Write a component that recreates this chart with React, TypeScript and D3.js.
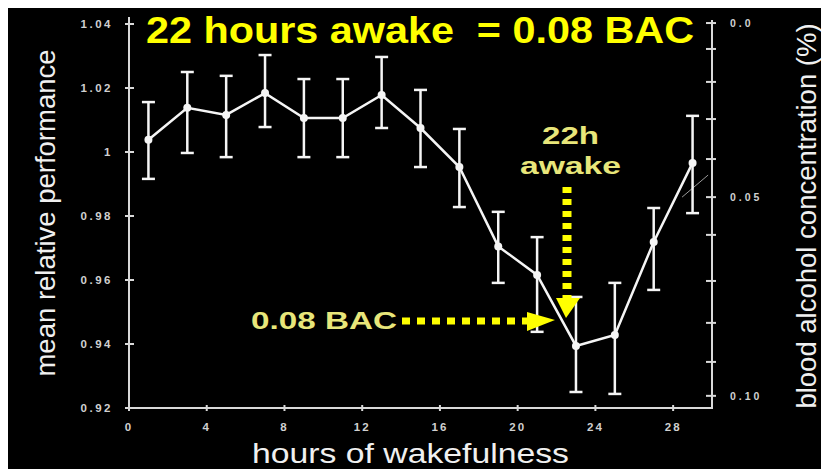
import React from "react";
import * as d3 from "d3";

const hours = [1, 3, 5, 7, 9, 11, 13, 15, 17, 19, 21, 23, 25, 27, 29];
const meanPerf = [1.0038, 1.0138, 1.0116, 1.0184, 1.0106, 1.0106, 1.0178, 1.0075, 0.9953, 0.9705, 0.9616, 0.9394, 0.9428, 0.9719, 0.9966];
const upperPerf = [1.0156, 1.025, 1.0238, 1.0303, 1.0228, 1.0228, 1.0297, 1.0194, 1.0072, 0.9813, 0.9734, 0.9547, 0.9591, 0.9825, 1.0113];
const lowerPerf = [0.9916, 0.9997, 0.9984, 1.0078, 0.9984, 0.9984, 1.0075, 0.9953, 0.9828, 0.9591, 0.9438, 0.925, 0.9244, 0.9569, 0.9809];

const xTicks = [0, 4, 8, 12, 16, 20, 24, 28];
const yTicks = [0.92, 0.94, 0.96, 0.98, 1, 1.02, 1.04];
const yTickLabels = ["0.92", "0.94", "0.96", "0.98", "1", "1.02", "1.04"];

// right axis: BAC ticks and the relative performance each corresponds to
const bacTicks = [0, 0.01, 0.02, 0.03, 0.04, 0.05, 0.06, 0.07, 0.08, 0.09, 0.1];
const bacPerfEquivalent = [1.0403, 1.0322, 1.0219, 1.0103, 0.9978, 0.9859, 0.9741, 0.9597, 0.9466, 0.9344, 0.9238];
const bacLabelTicks = [0, 0.05, 0.1];
const bacLabels = ["0.0", "0.05", "0.10"];

// faint remnant of the BAC curve near the right axis
const bacCurveHours = [28.46, 29.8];
const bacCurvePerf = [0.9859, 0.9928];

const FONT = "'Liberation Sans', Arial, Helvetica, sans-serif";

export default function App() {
  const W = 821;
  const H = 469;
  const x = d3.scaleLinear().domain([0, 30]).range([129, 712]);
  const y = d3.scaleLinear().domain([0.92, 1.04]).range([408, 24]);
  const yBac = d3.scaleLinear().domain(bacTicks).range(bacPerfEquivalent.map((p) => y(p)));

  const line = d3
    .line<number>()
    .x((_, i) => x(hours[i]))
    .y((d) => y(d));
  const bacLine = d3
    .line<number>()
    .x((_, i) => x(bacCurveHours[i]))
    .y((d) => y(d));

  const axisColor = "#d9d9d9";
  const white = "#f5f5f5";
  const capW = 6.5;

  const xLeft = x(0);
  const xRight = x(30);
  const yBottom = y(0.92);
  const yTop = 17;

  return (
    <div style={{ position: "fixed", left: 0, top: 0 }}>
      <svg width={W} height={H} style={{ display: "block" }}>
        <rect x={0} y={0} width={W} height={H} fill="#ffffff" />
        <rect x={8} y={8} width={W - 8} height={H - 8} fill="#000000" />

        {/* axes frame */}
        <path
          d={`M${xLeft},${yTop} L${xLeft},${yBottom} L${xRight},${yBottom} L${xRight},${20}`}
          fill="none"
          stroke={axisColor}
          strokeWidth={2}
        />

        {/* left ticks */}
        {yTicks.map((t, i) => (
          <g key={"yt" + i}>
            <line x1={xLeft - 4} x2={xLeft + 5} y1={y(t)} y2={y(t)} stroke={axisColor} strokeWidth={2} />
            <text
              x={113}
              y={y(t)}
              dy="0.35em"
              textAnchor="end"
              fontFamily={FONT}
              fontSize={11.5}
              fontWeight="bold"
              letterSpacing={2.5}
              fill="#d0d0d0"
            >
              {yTickLabels[i]}
            </text>
          </g>
        ))}

        {/* bottom ticks */}
        {xTicks.map((t) => (
          <g key={"xt" + t}>
            <line x1={x(t)} x2={x(t)} y1={yBottom - 3} y2={yBottom + 3} stroke={axisColor} strokeWidth={2} />
            <text
              x={x(t)}
              y={427}
              dy="0.35em"
              textAnchor="middle"
              fontFamily={FONT}
              fontSize={11.5}
              fontWeight="bold"
              letterSpacing={2}
              fill="#d0d0d0"
            >
              {t}
            </text>
          </g>
        ))}

        {/* right ticks */}
        {bacTicks.map((b) => (
          <line key={"bt" + b} x1={xRight - 6} x2={xRight + 4} y1={yBac(b)} y2={yBac(b)} stroke={axisColor} strokeWidth={2} />
        ))}
        {bacLabelTicks.map((b, i) => (
          <text
            key={"bl" + b}
            x={730}
            y={yBac(b)}
            dy="0.35em"
            fontFamily={FONT}
            fontSize={10.5}
            fontWeight="bold"
            letterSpacing={3}
            fill="#d0d0d0"
          >
            {bacLabels[i]}
          </text>
        ))}

        {/* faint BAC curve remnant */}
        <path d={bacLine(bacCurvePerf) || ""} fill="none" stroke="#9a9a9a" strokeWidth={1} />

        {/* error bars */}
        {hours.map((h, i) => (
          <g key={"eb" + h} stroke={white} strokeWidth={2.5}>
            <line x1={x(h)} x2={x(h)} y1={y(upperPerf[i])} y2={y(lowerPerf[i])} />
            <line x1={x(h) - capW} x2={x(h) + capW} y1={y(upperPerf[i])} y2={y(upperPerf[i])} />
            <line x1={x(h) - capW} x2={x(h) + capW} y1={y(lowerPerf[i])} y2={y(lowerPerf[i])} />
          </g>
        ))}

        {/* mean line */}
        <path d={line(meanPerf) || ""} fill="none" stroke={white} strokeWidth={2.5} />
        {hours.map((h, i) => (
          <circle key={"pt" + h} cx={x(h)} cy={y(meanPerf[i])} r={4} fill={white} />
        ))}

        {/* title */}
        <text
          x={146}
          y={43}
          fontFamily={FONT}
          fontSize={36}
          fontWeight="bold"
          fill="#ffff00"
          textLength={548}
          lengthAdjust="spacingAndGlyphs"
          style={{ whiteSpace: "pre" }}
        >
          {"22 hours awake  = 0.08 BAC"}
        </text>

        {/* 22h awake annotation */}
        <text
          x={542}
          y={144}
          fontFamily={FONT}
          fontSize={23}
          fontWeight="bold"
          fill="#e8e67a"
          textLength={57}
          lengthAdjust="spacingAndGlyphs"
        >
          22h
        </text>
        <text
          x={520}
          y={174}
          fontFamily={FONT}
          fontSize={23}
          fontWeight="bold"
          fill="#e8e67a"
          textLength={101}
          lengthAdjust="spacingAndGlyphs"
        >
          awake
        </text>
        <line x1={567} x2={567} y1={187} y2={298} stroke="#ffff00" strokeWidth={9} strokeDasharray="6,6" />
        <path d="M556,298 L580,298 L566,318 Z" fill="#ffff00" />

        {/* 0.08 BAC annotation */}
        <text
          x={251}
          y={329}
          fontFamily={FONT}
          fontSize={23}
          fontWeight="bold"
          fill="#e8e67a"
          textLength={146}
          lengthAdjust="spacingAndGlyphs"
        >
          0.08 BAC
        </text>
        <line x1={402} x2={527} y1={321} y2={321} stroke="#ffff00" strokeWidth={7} strokeDasharray="8,7" />
        <path d="M527,312 L555,320 L527,331 Z" fill="#ffff00" />

        {/* axis titles */}
        <text
          transform={`translate(55,${213}) rotate(-90)`}
          textAnchor="middle"
          fontFamily={FONT}
          fontSize={27.5}
          fill="#f0f0f0"
        >
          mean relative performance
        </text>
        <text
          transform={`translate(816,${216}) rotate(-90)`}
          textAnchor="middle"
          fontFamily={FONT}
          fontSize={27.5}
          fill="#f0f0f0"
        >
          blood alcohol concentration (%)
        </text>
        <text
          x={252}
          y={463}
          fontFamily={FONT}
          fontSize={28}
          fill="#f0f0f0"
          textLength={317}
          lengthAdjust="spacingAndGlyphs"
        >
          hours of wakefulness
        </text>
      </svg>
    </div>
  );
}
